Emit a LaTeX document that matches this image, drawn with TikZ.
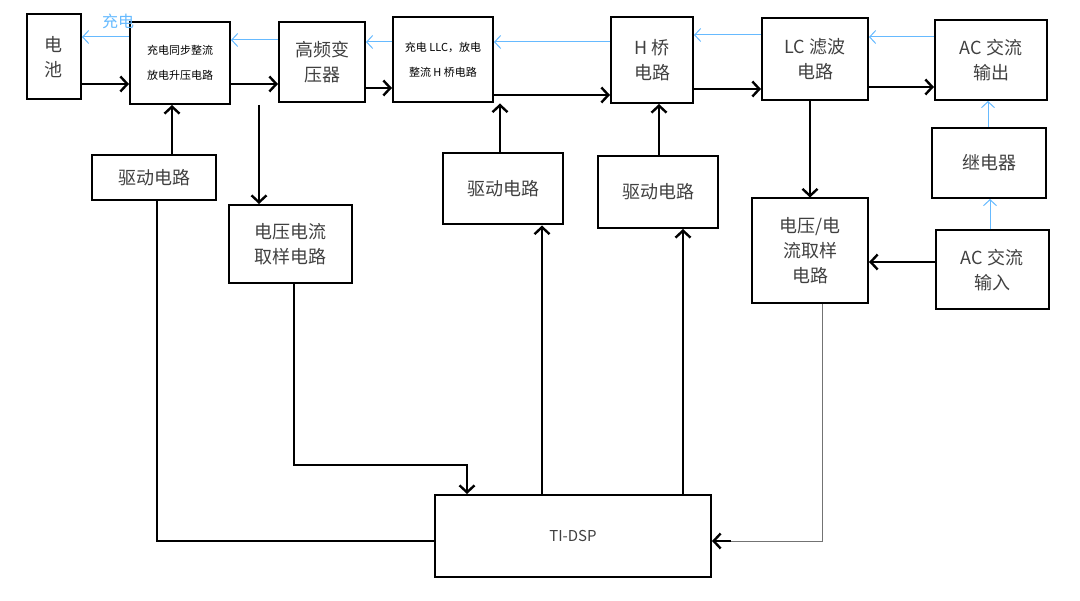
\documentclass[tikz,border=0pt]{standalone}
\usepackage{fontspec}
\setmainfont{Noto Sans CJK SC}
\usetikzlibrary{arrows.meta}
\begin{document}
\begin{tikzpicture}[x=1pt,y=-1pt,
 box/.style={draw,line width=2pt,inner sep=0pt,align=center,text=black!75,font=\fontsize{18}{25}\selectfont},
 sm/.style={font=\fontsize{11}{25}\selectfont,text=black},
 bk/.style={line width=2.8pt,-{Straight Barb[length=7pt,width=15pt,line width=2.4pt]}},
 bl/.style={draw=blue!45!cyan!60!white,line width=1pt,-{Straight Barb[length=6pt,width=13pt]}}]
\useasboundingbox (0,0) rectangle (1080,601);
\node[box,minimum width=54pt,minimum height=85pt] (bat) at (54,57) {电\\池};
\node[box,sm,minimum width=100pt,minimum height=82pt] (syn) at (180,63) {充电同步整流\\放电升压电路};
\node[box,minimum width=86pt,minimum height=80pt] (hf) at (322,62) {高频变\\压器};
\node[box,sm,minimum width=100pt,minimum height=85pt] (llc) at (443,60) {充电 LLC，放电\\整流 H 桥电路};
\node[box,minimum width=82pt,minimum height=86pt] (hb) at (652,60) {H 桥\\电路};
\node[box,minimum width=106pt,minimum height=82pt] (lc) at (815,59) {LC 滤波\\电路};
\node[box,minimum width=112pt,minimum height=80pt] (aco) at (991,60) {AC 交流\\输出};
\node[box,minimum width=114pt,minimum height=70pt] (rel) at (989,163) {继电器};
\node[box,minimum width=113pt,minimum height=79pt] (aci) at (992,270) {AC 交流\\输入};
\node[box,minimum width=116pt,minimum height=105pt] (smp2) at (810,251) {电压/电\\流取样\\电路};
\node[box,minimum width=124pt,minimum height=45pt] (drv1) at (154,178) {驱动电路};
\node[box,minimum width=123pt,minimum height=78pt] (smp1) at (290,244) {电压电流\\取样电路};
\node[box,minimum width=120pt,minimum height=71pt] (drv2) at (503,189) {驱动电路};
\node[box,minimum width=120pt,minimum height=72pt] (drv3) at (658,192) {驱动电路};
\node[box,minimum width=276pt,minimum height=82pt,font=\fontsize{15}{18}\selectfont] (dsp) at (573,536) {TI-DSP};
\node[text=blue!45!cyan!60!white,font=\fontsize{16}{18}\selectfont] (lbl) at (118,21) {充电};
% black forward arrows
\draw[bk] (bat.east|-0,84) -- (syn.west|-0,84);
\draw[bk] (syn.east|-0,84) -- (hf.west|-0,84);
\draw[bk] (hf.east|-0,88) -- (llc.west|-0,88);
\draw[bk] (llc.east|-0,95) -- (hb.west|-0,95);
\draw[bk] (hb.east|-0,89) -- (lc.west|-0,89);
\draw[bk] (lc.east|-0,87) -- (aco.west|-0,87);
% blue backward arrows
\draw[bl] (syn.west|-0,37) -- (bat.east|-0,37);
\draw[bl] (hf.west|-0,40) -- (syn.east|-0,40);
\draw[bl] (llc.west|-0,42) -- (hf.east|-0,42);
\draw[bl] (hb.west|-0,42) -- (llc.east|-0,42);
\draw[bl] (lc.west|-0,35) -- (hb.east|-0,35);
\draw[bl] (aco.west|-0,37) -- (lc.east|-0,37);
\draw[bl] (rel.north-|988,0) -- (aco.south-|988,0);
\draw[bl] (aci.north-|990,0) -- (rel.south-|990,0);
% verticals
\draw[bk] (aci.west|-0,262) -- (smp2.east|-0,262);
\draw[bk] (lc.south-|810,0) -- (smp2.north-|810,0);
\draw[bk] (syn.south-|259,0) -- (smp1.north-|259,0);
\draw[bk] (drv1.north-|172,0) -- (syn.south-|172,0);
\draw[bk] (drv2.north-|500,0) -- (llc.south-|500,0);
\draw[bk] (drv3.north-|659,0) -- (hb.south-|659,0);
\draw[bk] (dsp.north-|542,0) -- (drv2.south-|542,0);
\draw[bk] (dsp.north-|683,0) -- (drv3.south-|683,0);
\draw[bk] (smp1.south-|294,0) -- (294,465) -- (467,465) -- (dsp.north-|467,0);
\draw[line width=2.8pt] (drv1.south-|157,0) -- (157,541) -- (dsp.west|-0,541);
\draw[draw=black!55,line width=0.8pt] (smp2.south-|822,0) -- (822,541) -- (730,541);
\draw[bk] (731,541) -- (dsp.east|-0,541);
\end{tikzpicture}
\end{document}
